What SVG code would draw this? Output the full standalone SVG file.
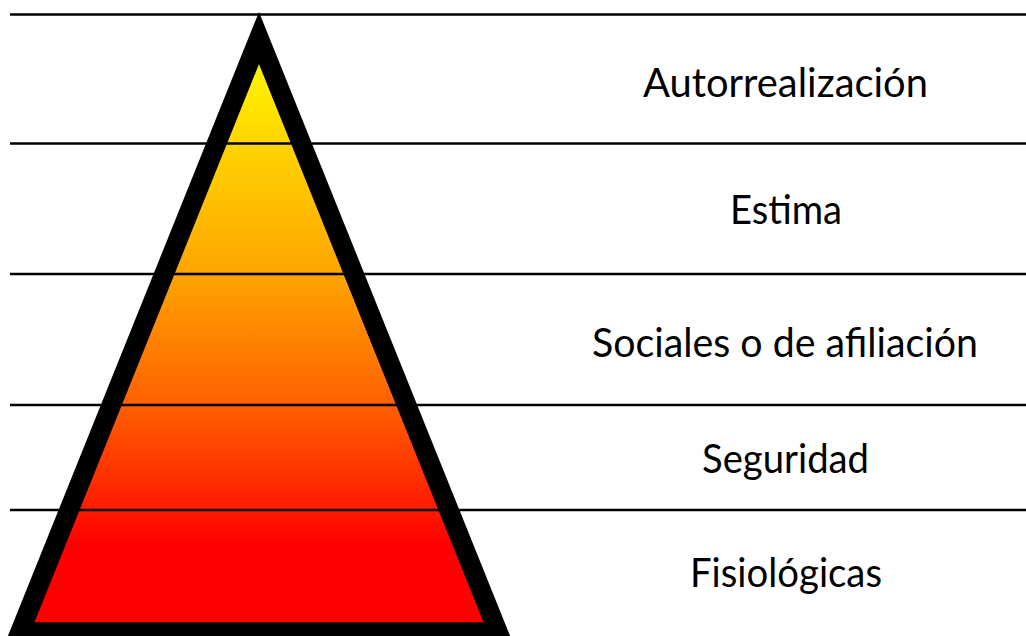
<svg xmlns="http://www.w3.org/2000/svg" width="1026" height="636" viewBox="0 0 1026 636">
  <defs>
    <linearGradient id="grad" gradientUnits="userSpaceOnUse" x1="0" y1="40" x2="0" y2="632">
      <stop offset="0" stop-color="#FFFF00"/>
      <stop offset="0.174" stop-color="#FFD500"/>
      <stop offset="0.395" stop-color="#FFA500"/>
      <stop offset="0.617" stop-color="#FF6000"/>
      <stop offset="0.794" stop-color="#FF1A00"/>
      <stop offset="0.85" stop-color="#FF0000"/>
      <stop offset="1" stop-color="#FF0000"/>
    </linearGradient>
    <style>
      .level { stroke: #000; stroke-width: 2.6; fill: none; }
      .label { font-family: Lato, "Open Sans", "Liberation Sans", sans-serif; font-size: 40px; fill: #000; text-anchor: middle; }
    </style>
  </defs>
  <rect width="1026" height="636" fill="#fff"/>
  <g id="pyramid-fill">
    <polygon points="259,38 20,632 498,632" fill="url(#grad)"/>
  </g>
  <g id="connectors">
    <line class="level" x1="10" y1="14.5" x2="1026" y2="14.5"/>
    <line class="level" x1="10" y1="143.5" x2="1026" y2="143.5"/>
    <line class="level" x1="10" y1="274" x2="1026" y2="274"/>
    <line class="level" x1="10" y1="405" x2="1026" y2="405"/>
    <line class="level" x1="10" y1="510" x2="1026" y2="510"/>
  </g>
  <g id="pyramid-outline">
    <polygon points="259,38 20,632 498,632" fill="none" stroke="#000" stroke-width="19.5" stroke-linejoin="miter"/>
  </g>
  <g id="autorrealizacion"><text class="label" x="785.5" y="97" textLength="285" lengthAdjust="spacingAndGlyphs">Autorrealización</text></g>
  <g id="estima"><text class="label" x="786" y="224" textLength="112" lengthAdjust="spacingAndGlyphs">Estima</text></g>
  <g id="sociales"><text class="label" x="785" y="357" textLength="386" lengthAdjust="spacingAndGlyphs">Sociales o de afiliación</text></g>
  <g id="seguridad"><text class="label" x="785.5" y="473" textLength="167" lengthAdjust="spacingAndGlyphs">Seguridad</text></g>
  <g id="fisiologicas"><text class="label" x="786" y="587" textLength="192" lengthAdjust="spacingAndGlyphs">Fisiológicas</text></g>
</svg>
